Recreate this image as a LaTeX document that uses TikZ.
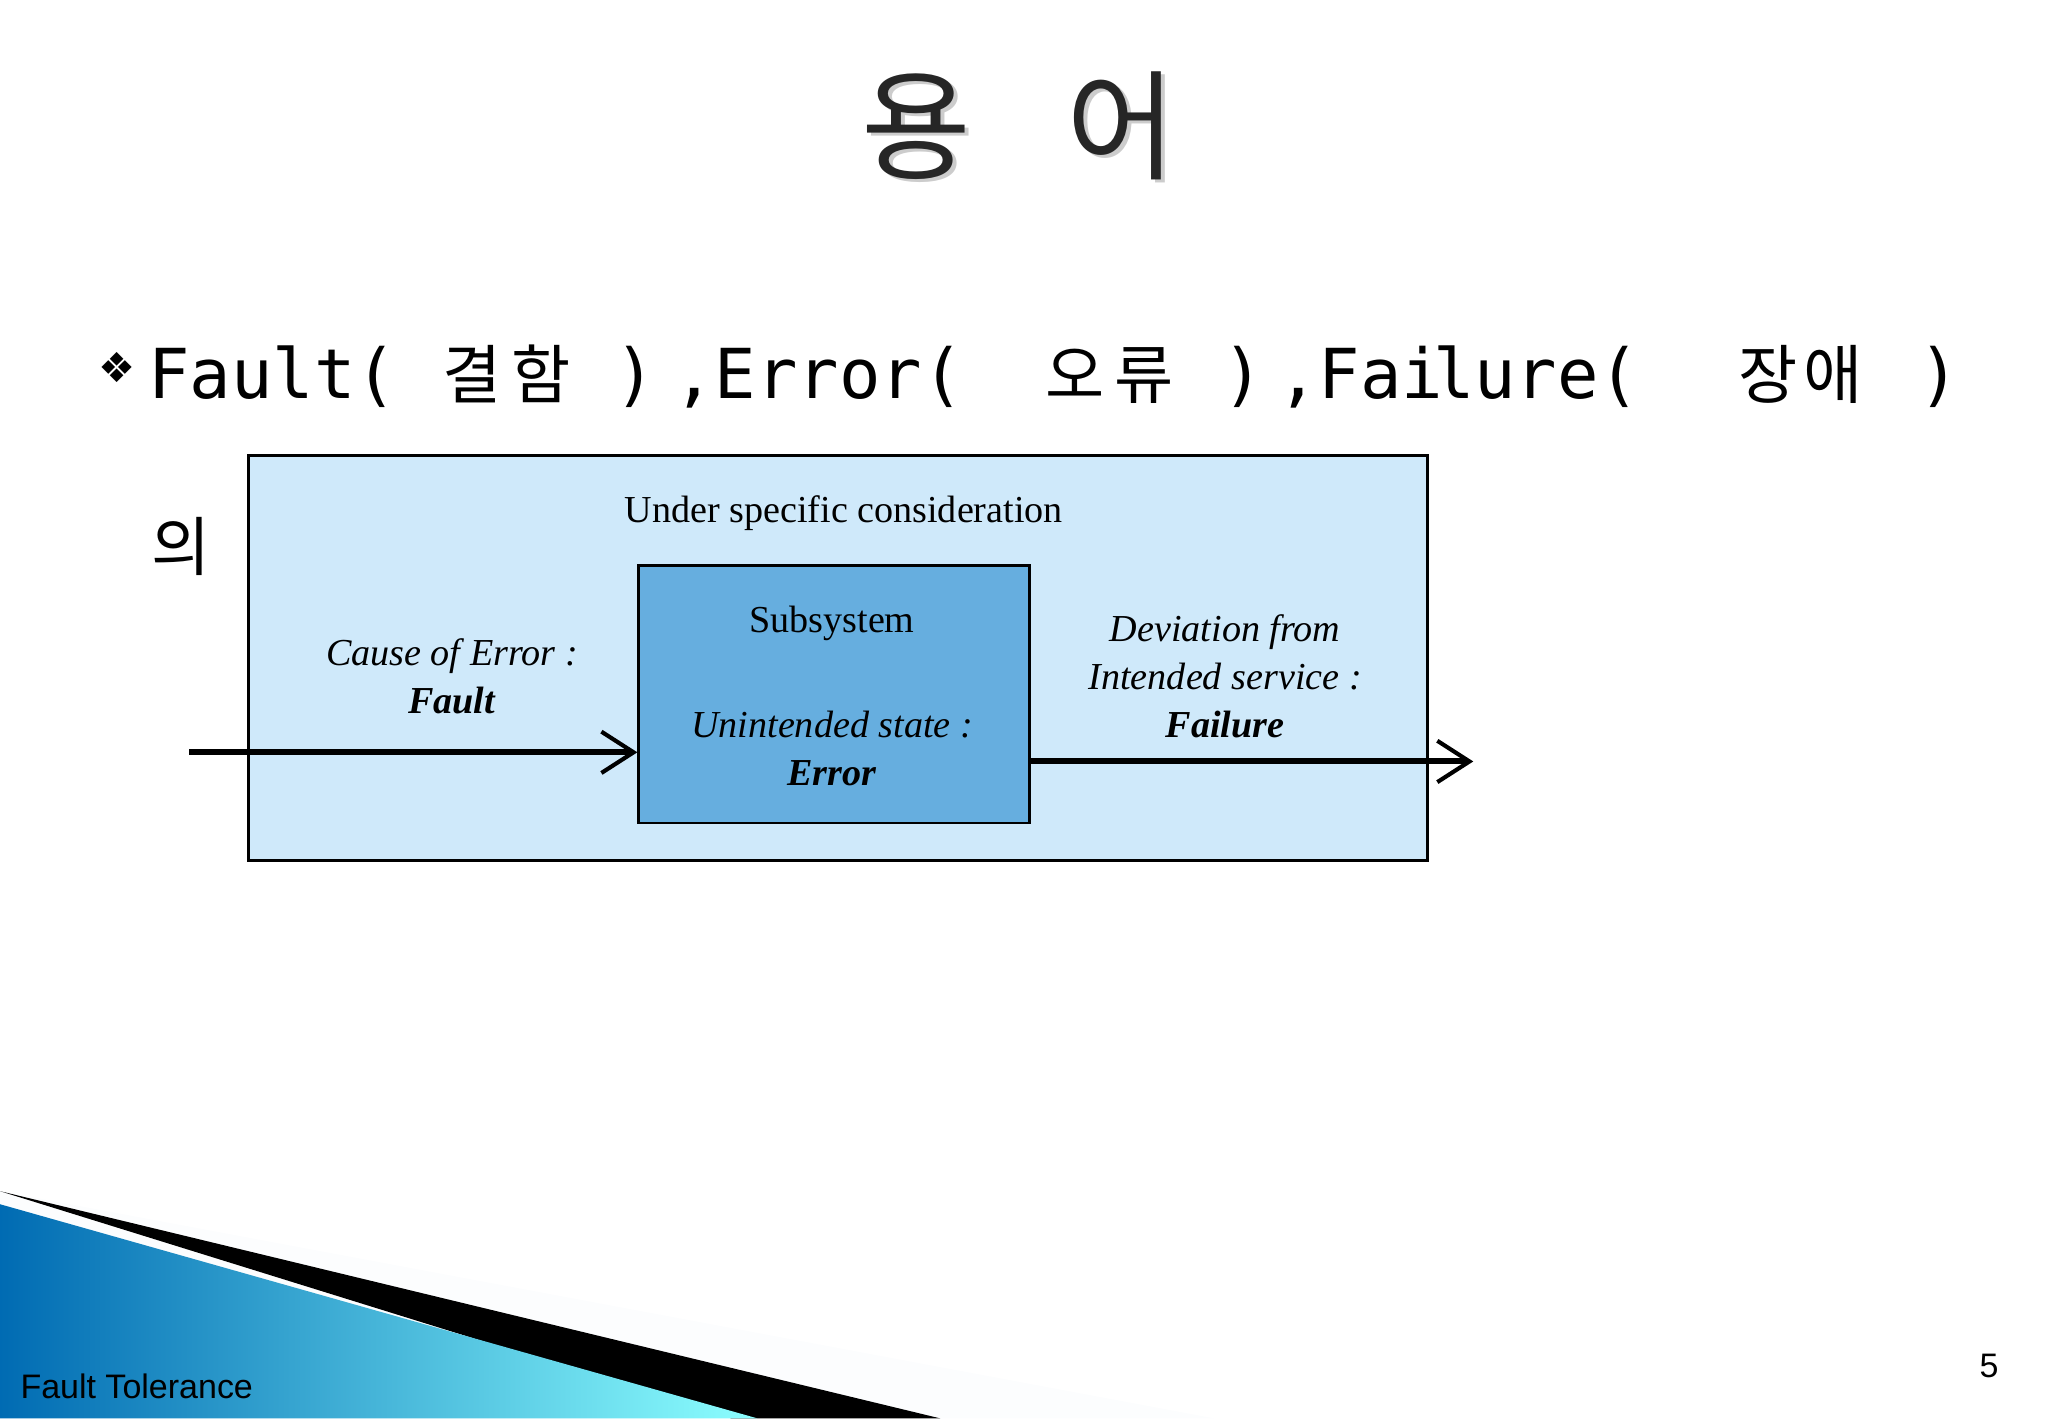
\documentclass[tikz,border=0pt]{standalone}
\usepackage{fontspec}
\setmainfont{Liberation Serif}
\newfontfamily\kr{Noto Sans CJK KR}
\newfontfamily\mono{DejaVu Sans Mono}
\newfontfamily\dvs{DejaVu Sans}
\newfontfamily\ls{Liberation Sans}
\usetikzlibrary{arrows.meta,shadings}
\definecolor{outerc}{HTML}{CFE9FA}
\definecolor{innerc}{HTML}{66AEDF}
\begin{document}
\begin{tikzpicture}[x=0.01cm,y=-0.01cm,
  bl/.style={anchor=base west,inner sep=0pt,font=\mono\fontsize{15}{15}\selectfont},
  bk/.style={anchor=base west,inner sep=0pt,font=\kr\fontsize{14}{14}\selectfont},
  lab/.style={align=center,font=\fontsize{8.3}{10.5}\selectfont},
  conn/.style={line width=1.3pt,-{Straight Barb[length=7pt,width=9pt,line width=0.9pt]}}]
\useasboundingbox (0,0) rectangle (1568,1086);
% bottom decoration
\fill[cyan!10!white!90!blue!5] (0,912) -- (930,1086) -- (0,1086) -- cycle;
\fill[black] (0,912) -- (720,1086) -- (560,1086) -- cycle;
\shade[left color=cyan!60!blue!70!black, right color=cyan!45] (0,922) -- (580,1086) -- (0,1086) -- cycle;
\node[anchor=base west,inner sep=0pt,font=\ls\fontsize{7.4}{8}\selectfont] (ft) at (15,1071) {Fault Tolerance};
\node[anchor=base west,inner sep=0pt,font=\ls\fontsize{7.4}{8}\selectfont] (pg) at (1515,1055) {5};
% title
\node[font=\kr\fontsize{26}{26}\selectfont,text=black!40,opacity=0.5] (tsh) at (783,99) {용\hspace{0.8em}어};
\node[font=\kr\fontsize{26}{26}\selectfont,text=black!85] (title) at (780,96) {용\hspace{0.8em}어};
% bullet line
\node[anchor=base west,inner sep=0pt,font=\dvs\fontsize{9}{9}\selectfont] (dia) at (75,293) {❖};
\node[bl] (b1) at (113,305) {Fault(};
\node[bk] (k1) at (338,305) {결\hspace{0.15em}함};
\node[bl] (b2) at (470,305) {)\hspace{0.25em},Error(};
\node[bk] (k2) at (800,305) {오\hspace{0.15em}류};
\node[bl] (b3) at (935,305) {)\hspace{0.2em},Fai\hspace{-0.15em}lure(};
\node[bk] (k3) at (1330,305) {장\hspace{0.1em}애};
\node[bl] (b4) at (1468,305) {)};
\node[bk] (k4) at (115,437) {의};
% boxes
\draw[fill=outerc,line width=0.6pt] (190,349) rectangle (1093,659);
\node[draw,fill=innerc,line width=0.6pt,minimum width=299*0.01cm,minimum height=197*0.01cm,anchor=north west,inner sep=0] (sub) at (488,432) {};
\node[lab] (usc) at (646,393) {Under specific consideration};
\node[lab] (st) at (637,477) {Subsystem};
\node[lab] (ue) at (637,573) {\textit{Unintended state :}\\\textbf{\textit{Error}}};
\node[lab] (ce) at (346,518) {\textit{Cause of Error :}\\\textbf{\textit{Fault}}};
\node[lab] (dv) at (938,518) {\textit{Deviation from}\\\textit{Intended service :}\\\textbf{\textit{Failure}}};
\coordinate (in) at (145,576);
\coordinate (out) at (1128,583);
\draw[conn] (in) -- (in -| sub.west);
\draw[conn] (sub.east |- out) -- (out);
\end{tikzpicture}
\end{document}
